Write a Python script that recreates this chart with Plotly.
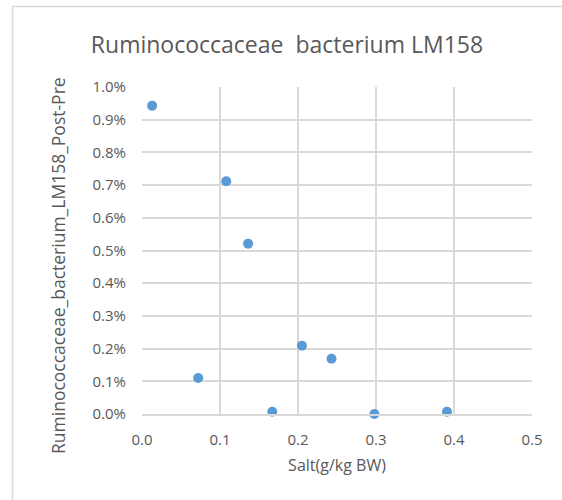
import plotly.graph_objects as go

salt = [0.013, 0.108, 0.136, 0.205, 0.243, 0.072, 0.167, 0.298, 0.391]
post_pre = [0.00943, 0.00712, 0.00521, 0.00209, 0.00169, 0.00110, 0.00007, 0.0, 0.00007]
y_title = "Ruminococcaceae_bacterium_LM158_Post-Pre"

W, H = 562, 500
L, R, T, B = 142, 30, 87, 86
pw, ph = W - L - R, H - T - B

fig = go.Figure()
fig.add_trace(go.Scatter(x=salt, y=post_pre, mode="markers",
                         marker=dict(color="#5b9bd5", size=10, line=dict(width=0)),
                         showlegend=False, cliponaxis=False))

font = "Open Sans, Liberation Sans, sans-serif"
grid = "#d9d9d9"
txt = "#595959"

bx = (12.5 - L) / pw
by = 1 + (T - 6.5) / ph
fig.add_shape(type="line", xref="paper", yref="paper", x0=bx, x1=bx, y0=by, y1=-1,
              line=dict(color="#d9d9d9", width=1.5))
fig.add_shape(type="line", xref="paper", yref="paper", x0=bx, x1=2, y0=by, y1=by,
              line=dict(color="#d9d9d9", width=1.5))

fig.add_annotation(text=y_title, textangle=-90, showarrow=False,
                   xref="paper", yref="paper",
                   x=(58 - L) / pw, y=1 - (266 - T) / ph,
                   xanchor="center", yanchor="middle",
                   font=dict(family=font, size=17.5, color=txt))

fig.update_layout(
    width=W, height=H,
    margin=dict(l=L, r=R, t=T, b=B),
    paper_bgcolor="white", plot_bgcolor="white",
    title=dict(text="Ruminococcaceae  bacterium LM158", x=287 / W, xanchor="center",
               y=1 - 45 / H, yanchor="middle",
               font=dict(family=font, size=23, color=txt)),
    xaxis=dict(range=[0, 0.5], dtick=0.1, tickformat=".1f",
               showgrid=True, gridcolor=grid, gridwidth=1.5,
               showline=True, linecolor=grid, linewidth=1.5, zeroline=False,
               ticks="outside", ticklen=11, tickcolor="rgba(0,0,0,0)",
               tickfont=dict(family=font, size=15, color=txt),
               title=dict(text="Salt(g/kg BW)", font=dict(family=font, size=16, color=txt),
                          standoff=12)),
    yaxis=dict(range=[0, 0.01], dtick=0.001, tickformat=".1%",
               showgrid=True, gridcolor=grid, gridwidth=1.5,
               showline=False, zeroline=False,
               ticks="outside", ticklen=12, tickcolor="rgba(0,0,0,0)",
               tickfont=dict(family=font, size=15, color=txt)),
)

fig.write_html("out.html")
